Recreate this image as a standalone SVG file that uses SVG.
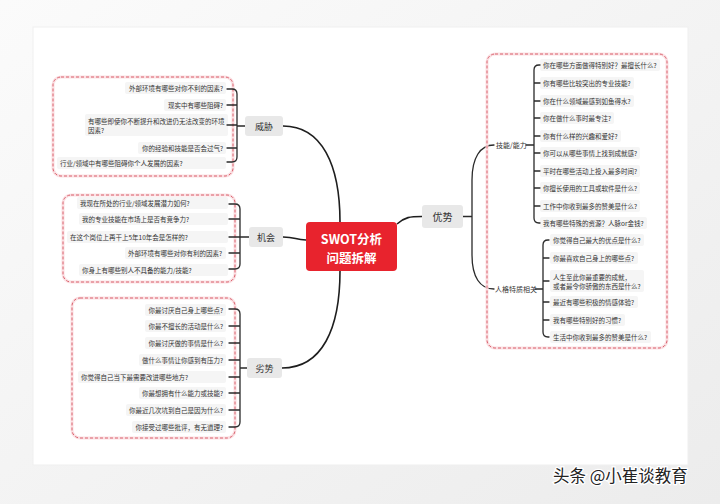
<svg xmlns="http://www.w3.org/2000/svg" width="720" height="504" viewBox="0 0 720 504">
<defs>
<linearGradient id="bg" x1="0" y1="0" x2="1" y2="1">
<stop offset="0" stop-color="#fbfbfb"/>
<stop offset="1" stop-color="#ececec"/>
</linearGradient>
<style>
text{font-family:"Noto Sans CJK SC","Noto Sans",sans-serif;fill:#333;dominant-baseline:central}
.it{font-size:6.5px}
.e{text-anchor:end}
.ib{fill:#f5f5f5}
.glow{fill:none;stroke:#fbe1e4;stroke-width:3}
.dash{fill:none;stroke:#d9606c;stroke-width:1;stroke-dasharray:3 2}
.br{fill:none;stroke:#2a2a2a;stroke-width:1.3;stroke-linecap:round}
.cn{fill:none;stroke:#1e1e1e;stroke-width:1.6}
.nd{fill:#e8e8e8}
.nt{font-size:9px;text-anchor:middle}
.ct{font-size:12.5px;font-weight:700;fill:#fff;text-anchor:middle}
</style>
</defs>
<rect width="720" height="504" fill="url(#bg)"/>
<rect x="33" y="27" width="655" height="438" fill="#fff" stroke="#efefef"/>

<g id="connectors">
<path class="cn" d="M283,126 C322,126 340,165 340,222"/>
<path class="cn" d="M283,237 C296,237 295,240 306,240"/>
<path class="cn" d="M282,368 C322,368 340,329 340,271"/>
<path class="cn" d="M397,224 C405,217 410,216.5 422,216.5"/>
<path class="br" d="M463,216.5 H472 M494,145 C480,145 472,158 472,180 V255 C472,277 480,289 494,289"/>
</g>

<g id="center">
<rect x="306" y="222" width="91" height="49" rx="4" fill="#e8232d"/>
<text class="ct" x="351.5" y="238.5">SWOT分析</text>
<text class="ct" x="351.5" y="257">问题拆解</text>
</g>

<g id="threats">
<rect class="glow" x="53" y="77" width="180" height="99" rx="8"/>
<rect class="dash" x="53" y="77" width="180" height="99" rx="8"/>
<rect class="ib" x="125" y="82" width="101" height="12" rx="2"/>
<rect class="ib" x="164" y="99" width="62" height="12" rx="2"/>
<rect class="ib" x="85" y="114" width="143" height="22" rx="2"/>
<rect class="ib" x="138" y="142" width="88" height="12" rx="2"/>
<rect class="ib" x="57" y="157" width="169" height="12" rx="2"/>
<text class="it e" x="223" y="88">外部环境有哪些对你不利的因素?</text>
<text class="it e" x="223" y="105">现实中有哪些阻碍?</text>
<text class="it" x="88" y="120.5">有哪些即使你不断提升和改进仍无法改变的环境</text>
<text class="it" x="88" y="130">因素?</text>
<text class="it e" x="223" y="148">你的经验和技能是否会过气?</text>
<text class="it" x="60" y="163">行业/领域中有哪些阻碍你个人发展的因素?</text>
<path class="br" d="M227,89 H232 Q237,89 237,94 V157 Q237,162 232,162 H227 M227,105 H237 M227,125 H237 M227,148 H237 M237,126 H245"/>
<rect class="nd" x="245" y="116" width="38" height="20" rx="3"/>
<text class="nt" x="264" y="126">威胁</text>
</g>

<g id="opportunities">
<rect class="glow" x="63" y="195" width="172" height="87" rx="8"/>
<rect class="dash" x="63" y="195" width="172" height="87" rx="8"/>
<rect class="ib" x="77" y="197" width="151" height="12" rx="2"/>
<rect class="ib" x="79" y="213" width="149" height="12" rx="2"/>
<rect class="ib" x="67" y="231" width="161" height="12" rx="2"/>
<rect class="ib" x="125" y="247" width="101" height="12" rx="2"/>
<rect class="ib" x="79" y="264" width="149" height="12" rx="2"/>
<text class="it" x="80" y="203">我现在所处的行业/领域发展潜力如何?</text>
<text class="it" x="82" y="219">我的专业技能在市场上是否有竞争力?</text>
<text class="it" x="70" y="237">在这个岗位上再干上5年10年会是怎样的?</text>
<text class="it e" x="222" y="253">外部环境有哪些对你有利的因素?</text>
<text class="it" x="82" y="270">你身上有哪些别人不具备的能力/技能?</text>
<path class="br" d="M229,204 H235 Q240,204 240,209 V264 Q240,269 235,269 H229 M229,219 H240 M229,237 H240 M229,253 H240 M240,237 H249"/>
<rect class="nd" x="249" y="227" width="34" height="20" rx="3"/>
<text class="nt" x="266" y="237">机会</text>
</g>

<g id="weaknesses">
<rect class="glow" x="72" y="298" width="163" height="140" rx="8"/>
<rect class="dash" x="72" y="298" width="163" height="140" rx="8"/>
<rect class="ib" x="145" y="304" width="81" height="12" rx="2"/>
<rect class="ib" x="145" y="320" width="81" height="12" rx="2"/>
<rect class="ib" x="145" y="337" width="81" height="12" rx="2"/>
<rect class="ib" x="139" y="354" width="87" height="12" rx="2"/>
<rect class="ib" x="78" y="371" width="148" height="12" rx="2"/>
<rect class="ib" x="139" y="387" width="87" height="12" rx="2"/>
<rect class="ib" x="126" y="404" width="100" height="12" rx="2"/>
<rect class="ib" x="132" y="421" width="94" height="12" rx="2"/>
<text class="it e" x="223" y="310">你最讨厌自己身上哪些点?</text>
<text class="it e" x="223" y="326">你最不擅长的活动是什么?</text>
<text class="it e" x="223" y="343">你最讨厌做的事情是什么?</text>
<text class="it e" x="223" y="360">做什么事情让你感到有压力?</text>
<text class="it" x="81" y="377">你觉得自己当下最需要改进哪些地方?</text>
<text class="it e" x="223" y="393">你最想拥有什么能力或技能?</text>
<text class="it e" x="223" y="410">你最近几次坑到自己是因为什么?</text>
<text class="it e" x="223" y="427">你接受过哪些批评，有无道理?</text>
<path class="br" d="M229,309 H235 Q240,309 240,314 V422 Q240,427 235,427 H229 M229,326 H240 M229,343 H240 M229,360 H240 M229,377 H240 M229,393 H240 M229,410 H240 M240,368 H247"/>
<rect class="nd" x="247" y="358" width="35" height="20" rx="3"/>
<text class="nt" x="264.5" y="368">劣势</text>
</g>

<g id="strengths">
<rect class="glow" x="487" y="54" width="180" height="294" rx="8"/>
<rect class="dash" x="487" y="54" width="180" height="294" rx="8"/>
<rect class="nd" x="422" y="205" width="41" height="23" rx="3"/>
<text class="nt" x="442.5" y="216.5" style="font-size:10px">优势</text>
</g>

<g id="skills">
<text class="it" x="496" y="145" style="font-size:7px">技能/能力</text>
<rect class="ib" x="540" y="59" width="120" height="12" rx="2"/>
<rect class="ib" x="540" y="77" width="94" height="12" rx="2"/>
<rect class="ib" x="540" y="95" width="94" height="12" rx="2"/>
<rect class="ib" x="540" y="112" width="74" height="12" rx="2"/>
<rect class="ib" x="540" y="130" width="81" height="12" rx="2"/>
<rect class="ib" x="540" y="147" width="100" height="12" rx="2"/>
<rect class="ib" x="540" y="165" width="100" height="12" rx="2"/>
<rect class="ib" x="540" y="182" width="100" height="12" rx="2"/>
<rect class="ib" x="540" y="200" width="100" height="12" rx="2"/>
<rect class="ib" x="540" y="217" width="107" height="12" rx="2"/>
<text class="it" x="543" y="65">你在哪些方面做得特别好？最擅长什么?</text>
<text class="it" x="543" y="83">你有哪些比较突出的专业技能?</text>
<text class="it" x="543" y="101">你在什么领域最感到如鱼得水?</text>
<text class="it" x="543" y="118">你在做什么事时最专注?</text>
<text class="it" x="543" y="136">你有什么样的兴趣和爱好?</text>
<text class="it" x="543" y="153">你可以从哪些事情上找到成就感?</text>
<text class="it" x="543" y="171">平时在哪些活动上投入最多时间?</text>
<text class="it" x="543" y="188">你擅长使用的工具或软件是什么?</text>
<text class="it" x="543" y="206">工作中你收到最多的赞美是什么?</text>
<text class="it" x="543" y="223">我有哪些特殊的资源？人脉or金钱?</text>
<path class="br" d="M540,65 H539 Q534,65 534,70 V218 Q534,223 539,223 H540 M534,83 H540 M534,101 H540 M534,118 H540 M534,136 H540 M534,153 H540 M534,171 H540 M534,188 H540 M534,206 H540 M526,145 H534"/>
</g>

<g id="personality">
<text class="it" x="495" y="289" style="font-size:7px">人格特质相关</text>
<rect class="ib" x="550" y="234" width="94" height="12" rx="2"/>
<rect class="ib" x="550" y="252" width="88" height="12" rx="2"/>
<rect class="ib" x="550" y="270" width="94" height="22" rx="2"/>
<rect class="ib" x="550" y="296" width="88" height="12" rx="2"/>
<rect class="ib" x="550" y="314" width="75" height="12" rx="2"/>
<rect class="ib" x="550" y="331" width="101" height="12" rx="2"/>
<text class="it" x="553" y="240">你觉得自己最大的优点是什么?</text>
<text class="it" x="553" y="258">你最喜欢自己身上的哪些点?</text>
<text class="it" x="553" y="276.5">人生至此你最重要的成就，</text>
<text class="it" x="553" y="286">或者最令你骄傲的东西是什么?</text>
<text class="it" x="553" y="302">最近有哪些积极的情感体验?</text>
<text class="it" x="553" y="320">我有哪些特别好的习惯?</text>
<text class="it" x="553" y="337">生活中你收到最多的赞美是什么?</text>
<path class="br" d="M549,240 H548 Q543,240 543,245 V332 Q543,337 548,337 H549 M543,258 H549 M543,281 H549 M543,302 H549 M543,320 H549 M535,289 H543"/>
</g>

<text x="553" y="475" style="font-size:16.5px;fill:#222;stroke:#fff;stroke-width:2.5;paint-order:stroke">头条 @小崔谈教育</text>
</svg>
